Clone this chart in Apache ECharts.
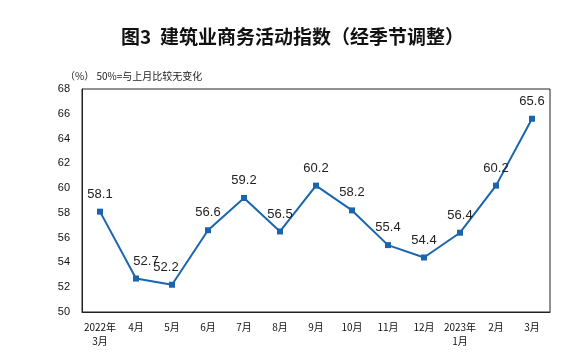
<!DOCTYPE html>
<html><head><meta charset="utf-8">
<script src="https://cdn.jsdelivr.net/npm/echarts@6/dist/echarts.min.js"></script>
<style>html,body{margin:0;padding:0;background:#fff}#c{width:585px;height:363px}</style>
</head><body><div id="c"></div>
<script>
const categories = ['2022年\n3月','4月','5月','6月','7月','8月','9月','10月','11月','12月','2023年\n1月','2月','3月'];
const values = [58.1,52.7,52.2,56.6,59.2,56.5,60.2,58.2,55.4,54.4,56.4,60.2,65.6];
const yTicks = {min:50,max:68,interval:2};
const titleText = '图3  建筑业商务活动指数（经季节调整）';
const unitText = '（%） 50%=与上月比较无变化';
const labelShiftX = [0,10,-6,0,0,0,0,0,0,0,0,0,0];

const chart = echarts.init(document.getElementById('c'));
chart.setOption({
  backgroundColor:'#fff',
  animation:false,
  title:[{text:titleText,left:'center',top:22,textStyle:{fontSize:19,fontWeight:'bold',color:'#111',fontFamily:'Noto Sans CJK SC'}},
         {text:unitText,left:60,top:66,textStyle:{fontSize:10,fontWeight:'normal',color:'#222',fontFamily:'Noto Sans CJK SC'}}],
  grid:{left:82,right:35,top:89,bottom:51,show:true,borderColor:'#222',borderWidth:1},
  xAxis:{type:'category',data:categories,boundaryGap:true,
    axisLine:{lineStyle:{color:'#222'}},
    axisTick:{inside:true,length:5,lineStyle:{color:'#222'}},
    axisLabel:{color:'#111',fontSize:10,fontFamily:'Noto Sans CJK SC',margin:8,lineHeight:14,interval:0}},
  yAxis:{type:'value',min:yTicks.min,max:yTicks.max,interval:yTicks.interval,
    axisLine:{show:true,lineStyle:{color:'#222'}},axisTick:{show:false},splitLine:{show:false},
    axisLabel:{color:'#111',fontSize:11,fontFamily:'Liberation Sans',margin:12}},
  series:[{type:'line',data:values.map((v,i)=>({value:v,label:{offset:[labelShiftX[i],0]}})),symbol:'rect',symbolSize:6,
    lineStyle:{color:'#1a65ad',width:2},itemStyle:{color:'#1a65ad'},
    label:{show:true,position:'top',distance:8,fontSize:13,color:'#222',fontFamily:'Liberation Sans'}}]
});
</script></body></html>
